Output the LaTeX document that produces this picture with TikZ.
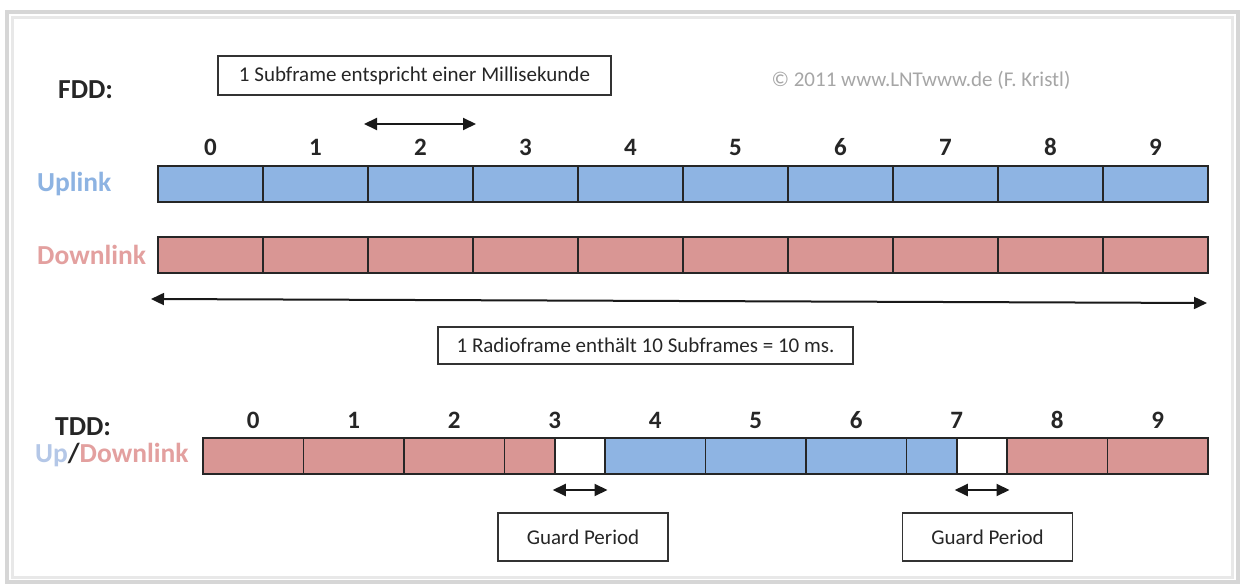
\documentclass[tikz,border=0pt]{standalone}
\usepackage{fontspec}
\setmainfont{Carlito}
\usetikzlibrary{arrows.meta,calc}

\definecolor{upfill}{HTML}{8EB4E3}
\definecolor{downfill}{HTML}{D99694}
\definecolor{uptext}{HTML}{8DB3E2}
\definecolor{uplight}{HTML}{B4C7E7}
\definecolor{downtext}{HTML}{E3A09F}
\definecolor{copygray}{HTML}{A6A6A6}
\definecolor{frameouter}{HTML}{D6D6D6}
\definecolor{frameinner}{HTML}{E8E8E8}
\definecolor{cellline}{HTML}{262626}

\begin{document}
\begin{tikzpicture}[x=1pt,y=-1pt,
  cell/.style={draw=cellline, line width=1.6pt, minimum height=36pt, inner sep=0pt, outer sep=0pt, anchor=north west},
  upcell/.style={cell, fill=upfill},
  downcell/.style={cell, fill=downfill},
  gapcell/.style={cell, fill=white},
  barframe/.style={draw=cellline, line width=2.4pt},
  num/.style={font=\fontsize{25}{27}\selectfont\bfseries, text=black!85, inner sep=0pt},
  rowlabel/.style={font=\fontsize{27.5}{30}\selectfont\bfseries, inner sep=0pt, anchor=west},
  infobox/.style={draw=black!80, line width=1.6pt, fill=white, inner sep=0pt, font=\fontsize{21}{23}\selectfont, text=black!85},
  dimarrow/.style={{Triangle[length=13pt,width=12pt]}-{Triangle[length=13pt,width=12pt]}, line width=2pt, black!90}
]
\useasboundingbox (0,0) rectangle (1242,585);
\fill[white] (0,0) rectangle (1242,585);

% frame around the figure
\draw[frameouter, line width=3.5pt] (7,12) rectangle (1238,582);
\draw[frameinner, line width=3pt] (12.5,18) rectangle (1232.5,577);

% ---------- FDD ----------
\node[rowlabel, text=black!85] (fdd) at (58,90) {FDD:};
\node[infobox, minimum width=393pt, minimum height=39pt] (subbox) at (414.5,75.5) {1 Subframe entspricht einer Millisekunde};
\node[font=\fontsize{21}{23}\selectfont, text=copygray, inner sep=0pt] (copy) at (921,80) {© 2011 www.LNTwww.de (F. Kristl)};

\foreach \i in {0,...,9} {
  \node[upcell, minimum width=105pt] (u\i) at ({158+105*\i},166) {};
  \node[downcell, minimum width=105pt] (d\i) at ({158+105*\i},237) {};
  \node[num] (n\i) at ($(u\i.north)+(0,-19)$) {\i};
}
\draw[barframe] (u0.north west) rectangle (u9.south east);
\draw[barframe] (d0.north west) rectangle (d9.south east);

\node[rowlabel, text=uptext] (uplabel) at (37,184) {Uplink};
\node[rowlabel, text=downtext] (downlabel) at (37,255) {Downlink};

% one subframe
\coordinate (sfl) at (364,124);
\coordinate (sfr) at (476,124);
\draw[dimarrow] (sfl) -- (sfr);

% one radio frame
\coordinate (rfl) at (151,299);
\coordinate (rfr) at (1207,303);
\draw[dimarrow] (rfl) -- (rfr);
\node[infobox, minimum width=415pt, minimum height=37pt] (radiobox) at (645.5,345.5) {1 Radioframe enthält 10 Subframes = 10 ms.};

% ---------- TDD ----------
\node[rowlabel, text=black!85] (tdd) at (55,427) {TDD:};

\node[downcell, minimum width=100.5pt]  (t0)  at (203,438) {};
\node[downcell, minimum width=100.5pt]  (t1)  at (303.5,438) {};
\node[downcell, minimum width=100.5pt]  (t2)  at (404,438) {};
\node[downcell, minimum width=50.25pt]  (t3)  at (504.5,438) {};
\node[gapcell, minimum width=50.25pt]   (g1)  at (554.75,438) {};
\node[upcell, minimum width=100.5pt]    (t4)  at (605,438) {};
\node[upcell, minimum width=100.5pt]    (t5)  at (705.5,438) {};
\node[upcell, minimum width=100.5pt]    (t6)  at (806,438) {};
\node[upcell, minimum width=50.25pt]    (t7)  at (906.5,438) {};
\node[gapcell, minimum width=50.25pt]   (g2)  at (956.75,438) {};
\node[downcell, minimum width=100.5pt]  (t8)  at (1007,438) {};
\node[downcell, minimum width=100.5pt]  (t9)  at (1107.5,438) {};
\draw[barframe] (t0.north west) rectangle (t9.south east);

\foreach \i in {0,1,2,4,5,6,8,9} {
  \node[num] (m\i) at ($(t\i.north)+(0,-18)$) {\i};
}
\node[num] (m3) at ($(t3.north east)+(0,-18)$) {3};
\node[num] (m7) at ($(t7.north east)+(0,-18)$) {7};

\node[rowlabel] (updown) at (35,455) {\textcolor{uplight}{Up}\textcolor{black!85}{/}\textcolor{downtext}{Downlink}};

% guard periods
\coordinate (ga1) at ($(g1.south west)+(-2,16)$);
\coordinate (gb1) at ($(g1.south east)+(2.5,16)$);
\draw[dimarrow] (ga1) -- (gb1);
\coordinate (ga2) at ($(g2.south west)+(-2,16)$);
\coordinate (gb2) at ($(g2.south east)+(2.5,16)$);
\draw[dimarrow] (ga2) -- (gb2);

\node[infobox, minimum width=170pt, minimum height=48pt] (guard1) at (583,537) {Guard Period};
\node[infobox, minimum width=170pt, minimum height=48pt] (guard2) at (987.5,537) {Guard Period};
\end{tikzpicture}
\end{document}
